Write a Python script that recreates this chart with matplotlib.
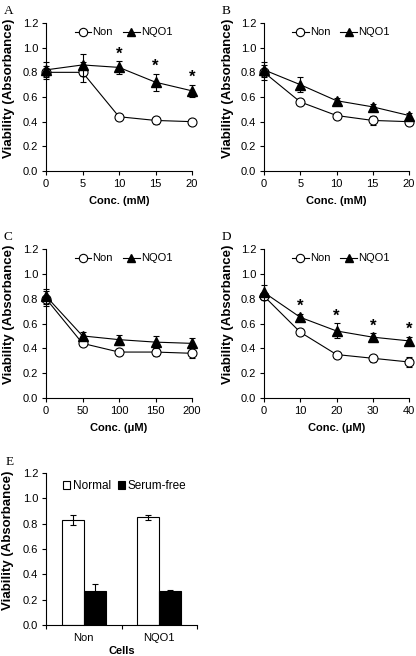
import matplotlib
matplotlib.use("Agg")
import matplotlib.pyplot as plt
from matplotlib.lines import Line2D
import numpy as np

plt.rcParams['font.family'] = ['Liberation Sans', 'DejaVu Sans']
plt.rcParams['font.size'] = 8

# panel A / B: mM, panel C / D: uM
conc_a = [0, 5, 10, 15, 20]
non_a = [0.80, 0.80, 0.44, 0.41, 0.40]
non_a_err = [0.05, 0.08, 0.01, 0.03, 0.01]
nqo_a = [0.82, 0.86, 0.84, 0.72, 0.65]
nqo_a_err = [0.06, 0.09, 0.05, 0.07, 0.05]
star_a = [10, 15, 20]

conc_b = [0, 5, 10, 15, 20]
non_b = [0.80, 0.56, 0.45, 0.41, 0.40]
non_b_err = [0.06, 0.02, 0.02, 0.04, 0.03]
nqo_b = [0.82, 0.70, 0.57, 0.52, 0.45]
nqo_b_err = [0.06, 0.06, 0.02, 0.02, 0.02]
star_b = []

conc_c = [0, 50, 100, 150, 200]
non_c = [0.80, 0.44, 0.37, 0.37, 0.36]
non_c_err = [0.06, 0.02, 0.02, 0.03, 0.04]
nqo_c = [0.82, 0.50, 0.47, 0.45, 0.44]
nqo_c_err = [0.06, 0.03, 0.04, 0.05, 0.04]
star_c = []

conc_d = [0, 10, 20, 30, 40]
non_d = [0.82, 0.53, 0.35, 0.32, 0.29]
non_d_err = [0.02, 0.02, 0.02, 0.03, 0.04]
nqo_d = [0.85, 0.65, 0.54, 0.49, 0.46]
nqo_d_err = [0.06, 0.03, 0.06, 0.03, 0.03]
star_d = [10, 20, 30, 40]

cells = ["Non", "NQO1"]
normal = [0.83, 0.85]
normal_err = [0.04, 0.02]
serum_free = [0.27, 0.27]
serum_free_err = [0.05, 0.01]

yticks = [0.0, 0.2, 0.4, 0.6, 0.8, 1.0, 1.2]

W, H = 416, 656
fig = plt.figure(figsize=(W / 100, H / 100), dpi=100)


def px_axes(left, top, right, bottom):
    return fig.add_axes([left / W, 1 - bottom / H, (right - left) / W, (bottom - top) / H])


def style_axes(ax):
    for s in ["top", "right"]:
        ax.spines[s].set_visible(False)
    for s in ["left", "bottom"]:
        ax.spines[s].set_linewidth(0.8)
    ax.tick_params(direction="out", length=3, width=0.8, pad=2.5, labelsize=8)
    ax.set_ylim(0, 1.2)
    ax.set_yticks(yticks)
    ax.set_yticklabels([f"{v:.1f}" for v in yticks])
    ax.set_ylabel("Viability (Absorbance)", fontweight="bold", fontsize=9.5)
    ax.yaxis.set_label_coords(-0.21, 0.56)


def line_panel(ax, x, non, non_err, nqo, nqo_err, stars, xlabel, letter):
    style_axes(ax)
    ax.errorbar(x, non, yerr=non_err, color="black", lw=0.8, elinewidth=0.8, capsize=2,
                capthick=0.8, marker="o", markersize=6.5, markerfacecolor="white",
                markeredgecolor="black", markeredgewidth=0.8, clip_on=False, zorder=3)
    ax.errorbar(x, nqo, yerr=nqo_err, color="black", lw=0.8, elinewidth=0.8, capsize=2,
                capthick=0.8, marker="^", markersize=6.5, markerfacecolor="black",
                markeredgecolor="black", clip_on=False, zorder=4)
    for sx in stars:
        i = x.index(sx)
        ax.text(sx, nqo[i] + nqo_err[i] + 0.06, "*", ha="center", va="center",
                fontsize=12, fontweight="bold")
    ax.set_xlim(x[0], x[-1])
    ax.set_xticks(x)
    ax.set_xlabel(xlabel, fontweight="bold", fontsize=8, labelpad=5)
    handles = [
        Line2D([], [], color="black", lw=0.8, marker="o", markersize=6,
               markerfacecolor="white", markeredgewidth=0.8),
        Line2D([], [], color="black", lw=0.8, marker="^", markersize=6,
               markerfacecolor="black"),
    ]
    ax.legend(handles, ["Non", "NQO1"], loc="upper center", bbox_to_anchor=(0.53, 1.0),
              ncol=2, frameon=False, handlelength=1.5, handletextpad=0.1,
              columnspacing=0.9, fontsize=8, borderaxespad=0)
    ax.text(-0.29, 1.04, letter, transform=ax.transAxes, fontsize=9.5,
            family="Liberation Serif", va="bottom", ha="left")


ax_a = px_axes(46, 23, 192, 171)
line_panel(ax_a, conc_a, non_a, non_a_err, nqo_a, nqo_a_err, star_a, "Conc. (mM)", "A")
ax_b = px_axes(264, 23, 409, 171)
line_panel(ax_b, conc_b, non_b, non_b_err, nqo_b, nqo_b_err, star_b, "Conc. (mM)", "B")
ax_c = px_axes(46, 249, 192, 398)
line_panel(ax_c, conc_c, non_c, non_c_err, nqo_c, nqo_c_err, star_c, "Conc. (\u03bcM)", "C")
ax_d = px_axes(264, 249, 409, 398)
line_panel(ax_d, conc_d, non_d, non_d_err, nqo_d, nqo_d_err, star_d, "Conc. (\u03bcM)", "D")

# panel E: bars
ax_e = px_axes(46, 473, 197, 625)
style_axes(ax_e)
pos = np.arange(len(cells))
bw = 0.29
ax_e.bar(pos - bw / 2, normal, bw, yerr=normal_err, color="white", edgecolor="black",
         linewidth=0.8, label="Normal",
         error_kw=dict(elinewidth=0.8, capsize=2, capthick=0.8, ecolor="black"))
ax_e.bar(pos + bw / 2, serum_free, bw, yerr=serum_free_err, color="black", edgecolor="black",
         linewidth=0.8, label="Serum-free",
         error_kw=dict(elinewidth=0.8, capsize=2, capthick=0.8, ecolor="black"))
ax_e.set_xlim(-0.5, 1.5)
ax_e.set_xticks([-0.5, 0.5, 1.5])
ax_e.set_xticklabels([])
ax_e.set_xticks(pos, minor=True)
ax_e.set_xticklabels(cells, minor=True)
ax_e.tick_params(axis="x", which="minor", length=0, pad=6, labelsize=8)
ax_e.set_xlabel("Cells", fontweight="bold", fontsize=8, labelpad=2)
ax_e.legend(loc="upper center", bbox_to_anchor=(0.52, 0.985), ncol=2, frameon=False,
            handlelength=0.6, handleheight=0.6, handletextpad=0.2, columnspacing=0.6,
            fontsize=8.5, borderaxespad=0)
ax_e.text(-0.27, 1.03, "E", transform=ax_e.transAxes, fontsize=9.5,
          family="Liberation Serif", va="bottom", ha="left")

fig.savefig("out.png", dpi=100)
